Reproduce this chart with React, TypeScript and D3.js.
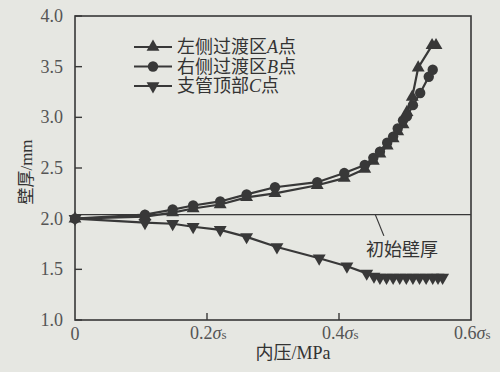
import React from "react";
import * as d3 from "d3";

// pressure in units of sigma_s, wall thickness in mm
const seriesA_x = [0, 0.106, 0.148, 0.179, 0.22, 0.26, 0.303, 0.367, 0.408, 0.439, 0.452, 0.462, 0.473, 0.482, 0.489, 0.497, 0.503, 0.511, 0.52, 0.541, 0.547];
const seriesA_y = [2.0, 2.02, 2.06, 2.1, 2.14, 2.21, 2.25, 2.33, 2.4, 2.49, 2.57, 2.64, 2.72, 2.79, 2.86, 2.93, 3.05, 3.2, 3.49, 3.71, 3.71];

const seriesB_x = [0, 0.106, 0.148, 0.179, 0.22, 0.26, 0.303, 0.367, 0.408, 0.439, 0.452, 0.462, 0.473, 0.482, 0.489, 0.497, 0.503, 0.512, 0.523, 0.536, 0.542];
const seriesB_y = [2.0, 2.04, 2.09, 2.13, 2.17, 2.24, 2.31, 2.36, 2.45, 2.53, 2.6, 2.66, 2.75, 2.81, 2.89, 2.97, 3.01, 3.12, 3.24, 3.4, 3.47];

const seriesC_x = [0, 0.106, 0.148, 0.179, 0.22, 0.26, 0.306, 0.37, 0.412, 0.442, 0.453, 0.462, 0.472, 0.482, 0.492, 0.502, 0.512, 0.522, 0.532, 0.542, 0.55, 0.557];
const seriesC_y = [2.0, 1.96, 1.95, 1.92, 1.89, 1.82, 1.72, 1.61, 1.53, 1.46, 1.43, 1.42, 1.42, 1.42, 1.42, 1.42, 1.42, 1.42, 1.42, 1.42, 1.42, 1.42];

const initialThickness = 2.04;

const yTicks = [1.0, 1.5, 2.0, 2.5, 3.0, 3.5, 4.0];
const xTicks = [0, 0.2, 0.4, 0.6];

const legendLabels = [
  { pre: "左侧过渡区", it: "A", post: "点", marker: "up" },
  { pre: "右侧过渡区", it: "B", post: "点", marker: "circle" },
  { pre: "支管顶部", it: "C", post: "点", marker: "down" },
];

const W = 500, H = 372;
const margin = { top: 16, right: 29, bottom: 52, left: 75 };
const ink = "#383838";
const textInk = "#555";
const serifFont = "'Liberation Serif', 'Noto Sans CJK SC', serif";
const tf = { fontFamily: serifFont };

function Marker({ kind, x, y }: { kind: string; x: number; y: number }) {
  if (kind === "circle") return <circle cx={x} cy={y} r={5.2} fill={ink} />;
  const p = d3.symbol().type(d3.symbolTriangle).size(72)() as string;
  return <path d={p} transform={`translate(${x},${y}) rotate(${kind === "down" ? 180 : 0})`} fill={ink} />;
}

export default function App() {
  const x = d3.scaleLinear().domain([0, 0.6]).range([margin.left, W - margin.right]);
  const y = d3.scaleLinear().domain([1, 4]).range([H - margin.bottom, margin.top]);
  const line = d3.line<[number, number]>().x(d => x(d[0])).y(d => y(d[1]));

  const series = [
    { xs: seriesA_x, ys: seriesA_y, m: "up" },
    { xs: seriesB_x, ys: seriesB_y, m: "circle" },
    { xs: seriesC_x, ys: seriesC_y, m: "down" },
  ];

  const x0 = x(0), x1 = x(0.6), yb = y(1), yt = y(4);

  return (
    <svg width={W} height={H} style={{ position: "absolute", left: 0, top: 0 }}>
      <rect width={W} height={H} fill="#e6e7e2" />
      {/* frame */}
      <rect x={x0} y={yt} width={x1 - x0} height={yb - yt} fill="none" stroke={ink} strokeWidth={1.6} />
      {/* y ticks */}
      {yTicks.map(t => (
        <g key={t}>
          <line x1={x0} x2={x0 + 7} y1={y(t)} y2={y(t)} stroke={ink} strokeWidth={1.4} />
          <text x={x0 - 12} y={y(t) + 6} textAnchor="end" fontSize={18} fill={textInk} style={tf}>{t.toFixed(1)}</text>
        </g>
      ))}
      {/* x ticks */}
      {xTicks.map(t => (
        <g key={t}>
          {t > 0 && t < 0.6 && <line x1={x(t)} x2={x(t)} y1={yb} y2={yb - 7} stroke={ink} strokeWidth={1.4} />}
          {t === 0 ? (
            <text x={x(t)} y={yb + 20} textAnchor="middle" fontSize={18} fill={textInk} style={tf}>0</text>
          ) : (
            <text x={x(t) - 17} y={yb + 19} fontSize={18} fill={textInk} style={tf}>
              {t.toFixed(1)}
              <tspan fontStyle="italic">σ</tspan>
              <tspan fontSize={13}>s</tspan>
            </text>
          )}
        </g>
      ))}
      <text x={293} y={359} textAnchor="middle" fontSize={18} fill="#333" style={tf}>内压/MPa</text>
      <text transform={`translate(32,172) rotate(-90)`} textAnchor="middle" fontSize={17} fill="#333" style={tf}>壁厚/mm</text>

      {/* initial thickness line */}
      <line x1={x0} x2={x1} y1={y(initialThickness)} y2={y(initialThickness)} stroke={ink} strokeWidth={1.4} />
      <line x1={x(0.455)} y1={y(initialThickness)} x2={x(0.468)} y2={y(1.83)} stroke={ink} strokeWidth={1.2} />
      <text x={402} y={256} textAnchor="middle" fontSize={18} fill="#333" style={tf}>初始壁厚</text>

      {/* data */}
      {series.map((s, i) => {
        const pts = s.xs.map((v, j) => [v, s.ys[j]] as [number, number]);
        return (
          <g key={i}>
            <path d={line(pts) as string} fill="none" stroke={ink} strokeWidth={2.2} />
            {pts.map((p, j) => <Marker key={j} kind={s.m} x={x(p[0])} y={y(p[1])} />)}
          </g>
        );
      })}

      {/* legend */}
      {legendLabels.map((l, i) => {
        const ly = 47 + i * 19.5;
        return (
          <g key={i}>
            <line x1={134} x2={172} y1={ly} y2={ly} stroke={ink} strokeWidth={2} />
            <Marker kind={l.marker} x={153} y={ly} />
            <text x={177} y={ly + 6} fontSize={18} fill="#333" style={tf}>
              {l.pre}
              <tspan fontStyle="italic">{l.it}</tspan>
              {l.post}
            </text>
          </g>
        );
      })}
    </svg>
  );
}
